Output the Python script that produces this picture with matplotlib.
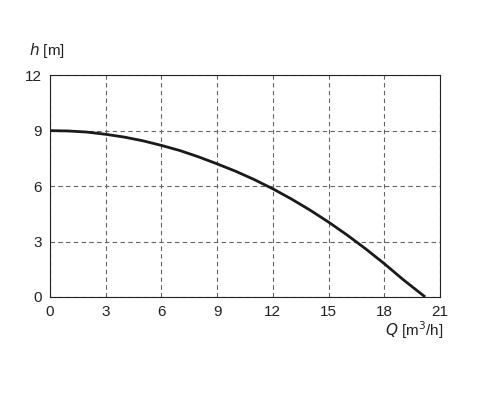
import matplotlib.pyplot as plt
import numpy as np

plt.rcParams['font.family'] = ['Liberation Sans', 'DejaVu Sans']

# pump curve
flow = [0, 1, 2, 3, 4, 5, 6, 7, 8, 9, 10, 11, 12, 13, 14, 15, 16, 17, 18, 19, 20.2]
head = [9.0, 8.98, 8.92, 8.8, 8.65, 8.45, 8.2, 7.92, 7.58, 7.2, 6.8, 6.35, 5.85, 5.3, 4.7,
        4.05, 3.35, 2.6, 1.8, 0.95, 0.0]
x_ticks = [0, 3, 6, 9, 12, 15, 18, 21]
y_ticks = [0, 3, 6, 9, 12]

fig = plt.figure(figsize=(5, 4.2), dpi=100)
ax = fig.add_axes([0.1, 0.293, 0.78, 0.528])
ax.plot(flow, head, color='#1a1a1a', linewidth=2, solid_capstyle='butt')
ax.set_xlim(0, 21)
ax.set_ylim(0, 12)
ax.set_xticks(x_ticks)
ax.set_yticks(y_ticks)
ax.grid(color='#666666', linestyle=(0, (4, 3)), linewidth=0.8)
ax.tick_params(length=0, labelsize=11, colors='#222222', pad=6)
for s in ax.spines.values():
    s.set_linewidth(0.8)
    s.set_color('#222222')

fig.text(0.058, 0.87, r'$\it{h}$ [m]', fontsize=11, color='#222222')
fig.text(0.77, 0.2, r'$\it{Q}$ [m$^3$/h]', fontsize=11, color='#222222')

fig.savefig('out.png', dpi=100)
